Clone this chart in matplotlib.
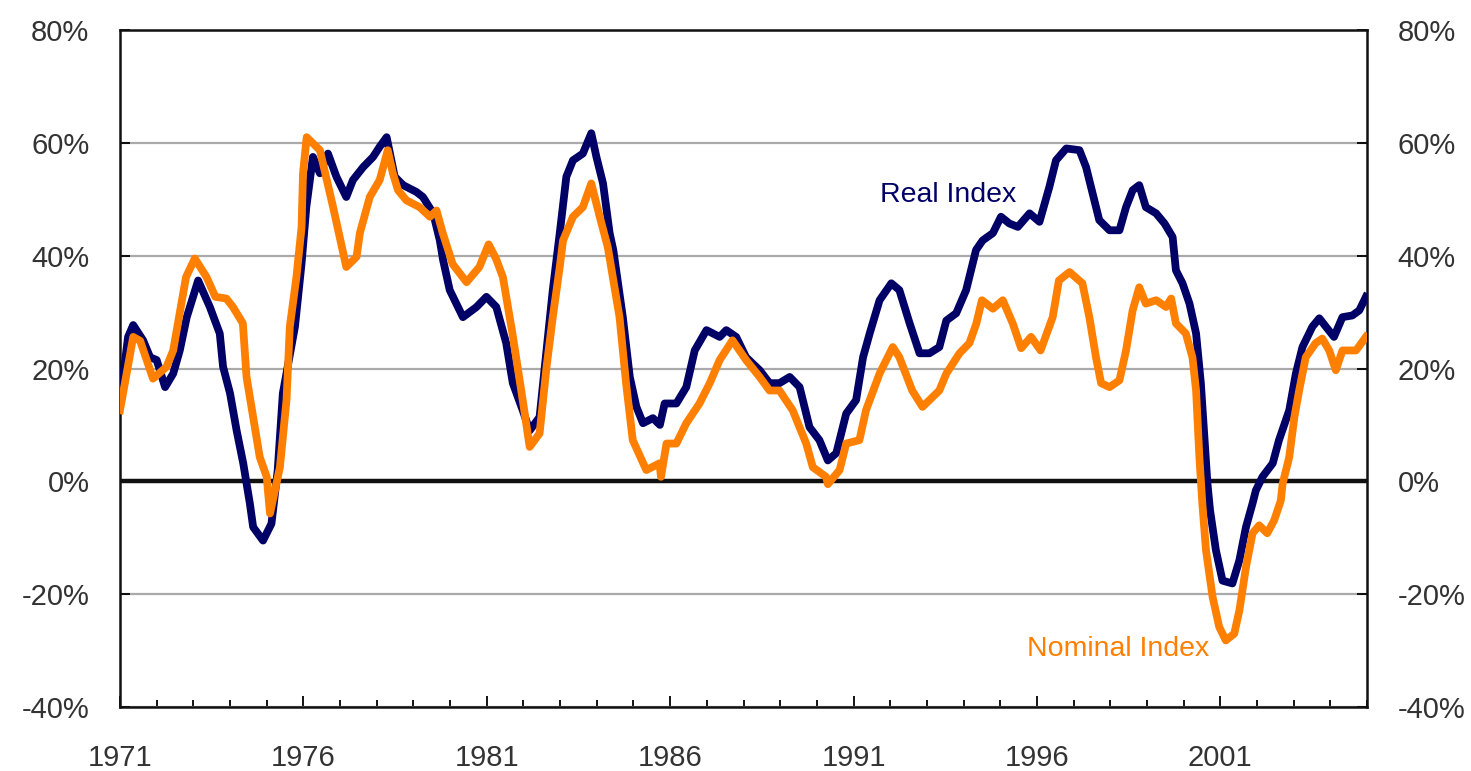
import numpy as np
import matplotlib
matplotlib.use("Agg")
import matplotlib.pyplot as plt
from matplotlib.ticker import MultipleLocator, FuncFormatter

plt.rcParams['font.family'] = ['Liberation Sans', 'DejaVu Sans']

# real index, year-over-year change (%)
real_years = [1971.0, 1971.22, 1971.36, 1971.63, 1971.82, 1972.0, 1972.23, 1972.45, 1972.63, 1972.82,
              1973.13, 1973.45, 1973.72, 1973.81, 1974.0, 1974.18, 1974.36, 1974.54, 1974.63, 1974.9,
              1975.13, 1975.3, 1975.44, 1975.77, 1975.95, 1976.08, 1976.26, 1976.45, 1976.67, 1976.9,
              1977.17, 1977.35, 1977.63, 1977.9, 1978.08, 1978.27, 1978.49, 1978.72, 1979.08, 1979.26,
              1979.54, 1979.72, 1979.81, 1979.99, 1980.35, 1980.72, 1980.99, 1981.26, 1981.53, 1981.71,
              1981.98, 1982.17, 1982.44, 1982.63, 1982.8, 1982.99, 1983.17, 1983.35, 1983.62, 1983.85,
              1983.99, 1984.17, 1984.35, 1984.45, 1984.71, 1984.9, 1985.08, 1985.26, 1985.53, 1985.72,
              1985.85, 1986.17, 1986.44, 1986.67, 1986.99, 1987.35, 1987.53, 1987.8, 1988.07, 1988.44,
              1988.71, 1988.98, 1989.26, 1989.53, 1989.8, 1990.07, 1990.3, 1990.53, 1990.8, 1991.07,
              1991.26, 1991.44, 1991.71, 1992.03, 1992.25, 1992.53, 1992.8, 1993.07, 1993.34, 1993.53,
              1993.8, 1994.07, 1994.34, 1994.52, 1994.8, 1995.02, 1995.25, 1995.48, 1995.8, 1996.07,
              1996.34, 1996.52, 1996.8, 1997.16, 1997.34, 1997.52, 1997.7, 1997.98, 1998.25, 1998.43,
              1998.61, 1998.79, 1998.97, 1999.25, 1999.48, 1999.7, 1999.79, 1999.97, 2000.16, 2000.34,
              2000.47, 2000.56, 2000.65, 2000.72, 2000.88, 2001.06, 2001.33, 2001.52, 2001.7, 2001.88,
              2001.97, 2002.15, 2002.43, 2002.6, 2002.88, 2003.06, 2003.24, 2003.51, 2003.7, 2003.88,
              2004.1, 2004.33, 2004.6, 2004.79, 2004.97]
real_vals = [14, 25.6, 27.7, 25, 22, 21.5, 16.7, 19.1, 23.2, 29.1,
             35.6, 30.9, 26.2, 20.3, 15.6, 9, 3.2, -3.9, -8.1, -10.5,
             -7.5, 2, 15.6, 27.4, 38.6, 48.6, 57.5, 54.6, 58.1, 54,
             50.4, 53.4, 55.7, 57.5, 59.3, 61, 54, 52.5, 51.3, 50.4,
             47.5, 42.7, 39.2, 33.9, 29.1, 30.9, 32.7, 30.9, 24.5, 17.4,
             12.6, 9, 11.4, 23.2, 33.9, 44, 54, 56.9, 58.1, 61.7,
             57.5, 52.8, 44, 41, 29.1, 18.5, 13.2, 10.3, 11.2, 10,
             13.8, 13.8, 16.7, 23.2, 26.8, 25.6, 26.8, 25.6, 22, 19.7,
             17.4, 17.4, 18.5, 16.7, 9.6, 7.3, 3.7, 5, 12, 14.4,
             22, 26.2, 32.1, 35.1, 33.9, 28, 22.7, 22.7, 23.8, 28.5,
             29.8, 33.9, 41, 42.7, 44, 46.9, 45.7, 45.1, 47.5, 46,
             52.2, 56.9, 59, 58.7, 55.7, 51, 46.3, 44.5, 44.5, 48.6,
             51.6, 52.5, 48.6, 47.5, 45.7, 43.3, 37.4, 35.1, 31.5, 26.2,
             17.4, 8.5, -0.4, -5.1, -12.2, -17.6, -18.1, -14, -8.1, -3.9,
             -1.6, 0.8, 3.2, 7.3, 12.6, 19.1, 23.8, 27.4, 28.9, 27.4,
             25.6, 29.1, 29.4, 30.3, 32.7]

# nominal index, year-over-year change (%)
nom_years = [1971.0, 1971.36, 1971.55, 1971.9, 1972.27, 1972.45, 1972.8, 1973.04, 1973.36, 1973.6,
             1973.9, 1974.08, 1974.35, 1974.45, 1974.63, 1974.81, 1975.0, 1975.09, 1975.36, 1975.54,
             1975.63, 1975.81, 1975.95, 1975.99, 1976.09, 1976.45, 1976.81, 1977.17, 1977.45, 1977.54,
             1977.81, 1978.08, 1978.3, 1978.44, 1978.58, 1978.81, 1979.17, 1979.45, 1979.63, 1979.8,
             1980.07, 1980.45, 1980.8, 1981.05, 1981.25, 1981.44, 1981.7, 1981.98, 1982.17, 1982.44,
             1982.63, 1982.8, 1982.99, 1983.08, 1983.35, 1983.62, 1983.85, 1984.08, 1984.3, 1984.62,
             1984.8, 1984.98, 1985.35, 1985.71, 1985.75, 1985.9, 1986.17, 1986.44, 1986.8, 1987.08,
             1987.35, 1987.7, 1988.07, 1988.44, 1988.71, 1988.98, 1989.34, 1989.71, 1989.89, 1990.25,
             1990.3, 1990.62, 1990.8, 1991.16, 1991.34, 1991.71, 1992.07, 1992.25, 1992.6, 1992.88,
             1993.34, 1993.53, 1993.89, 1994.16, 1994.35, 1994.5, 1994.8, 1995.07, 1995.34, 1995.57,
             1995.84, 1996.1, 1996.43, 1996.6, 1996.89, 1997.24, 1997.43, 1997.61, 1997.75, 1997.98,
             1998.25, 1998.43, 1998.61, 1998.79, 1998.97, 1999.25, 1999.52, 1999.66, 1999.79, 2000.06,
             2000.24, 2000.34, 2000.43, 2000.51, 2000.61, 2000.79, 2000.97, 2001.15, 2001.38, 2001.52,
             2001.7, 2001.88, 2002.06, 2002.28, 2002.47, 2002.65, 2002.7, 2002.88, 2003.02, 2003.15,
             2003.33, 2003.6, 2003.78, 2003.97, 2004.15, 2004.33, 2004.7, 2004.97]
nom_vals = [12.6, 25.6, 24.9, 18.2, 20.3, 23.2, 36.2, 39.5, 36.2, 32.7,
            32.4, 30.9, 28, 18.5, 11.4, 4.3, 0.8, -5.7, 2.5, 14.4,
            27.4, 36.2, 45, 54.6, 61, 58.7, 48.6, 38, 39.8, 44,
            50.4, 53.4, 58.7, 54.6, 51.6, 49.8, 48.6, 46.9, 48, 44,
            38.5, 35.3, 38, 42, 39.5, 36.2, 26.2, 14.4, 6.1, 8.5,
            20.3, 29.1, 38, 42.7, 46.9, 48.6, 52.8, 46.9, 41.5, 29.1,
            17.3, 7.3, 2, 3.2, 0.8, 6.7, 6.7, 10.3, 13.8, 17.4,
            21.5, 25, 21.5, 18.5, 16.1, 16.1, 12.6, 6.7, 2.5, 0.8,
            -0.5, 2, 6.7, 7.3, 12.6, 19.1, 23.8, 22, 16.1, 13.2,
            16.1, 19.1, 22.7, 24.5, 28, 32.1, 30.6, 32.1, 28, 23.6,
            25.6, 23.2, 29.1, 35.6, 37.1, 35.1, 29.1, 22, 17.4, 16.7,
            17.9, 23.2, 30.3, 34.4, 31.5, 32.1, 30.9, 32.4, 28, 26.2,
            22, 16.1, 4.3, -3.9, -12.2, -20.5, -25.8, -28.2, -27, -22.9,
            -15.2, -9.2, -7.8, -9.2, -6.9, -3.4, -0.4, 4.3, 11.4, 16.1,
            22, 24.5, 25.3, 23.2, 19.7, 23.2, 23.2, 25.6]

year_labels = [1971, 1976, 1981, 1986, 1991, 1996, 2001]

navy = '#000066'
orange = '#FF7F00'

fig = plt.figure(figsize=(14.71, 7.71), dpi=100)
ax = fig.add_axes([120/1471, 64/771, 1247/1471, 677/771])

ax.plot(real_years, real_vals, color=navy, lw=5.6, solid_joinstyle='round', zorder=3)
ax.plot(nom_years, nom_vals, color=orange, lw=5.6, solid_joinstyle='round', zorder=4)

ax.set_xlim(1971, 2005)
ax.set_ylim(-40, 80)

ax.yaxis.set_major_locator(MultipleLocator(20))
ax.yaxis.set_major_formatter(FuncFormatter(lambda v, p: '%d%%' % v))
ax.set_xticks(year_labels)
ax.set_xticklabels([str(y) for y in year_labels])
ax.xaxis.set_minor_locator(MultipleLocator(1))

ax.grid(axis='y', color='#aaaaaa', lw=1.6, zorder=1)
ax.axhline(0, color='#111111', lw=3.2, zorder=2)

ax.tick_params(axis='y', which='major', direction='in', length=7, width=1.3,
               labelsize=21, labelcolor='#333333', pad=22, right=True, labelright=True)
ax.tick_params(axis='x', which='major', direction='in', length=8, width=1.3,
               labelsize=21, labelcolor='#333333', pad=27)
ax.tick_params(axis='x', which='minor', direction='in', length=5, width=1.3)

for s in ax.spines.values():
    s.set_color('#111111')
    s.set_linewidth(1.8)

ax.text(1991.72, 49.5, 'Real Index', color=navy, fontsize=20.5, ha='left', va='baseline')
ax.text(1995.73, -30.9, 'Nominal Index', color=orange, fontsize=20.5, ha='left', va='baseline')

fig.savefig('out.png', dpi=100)
